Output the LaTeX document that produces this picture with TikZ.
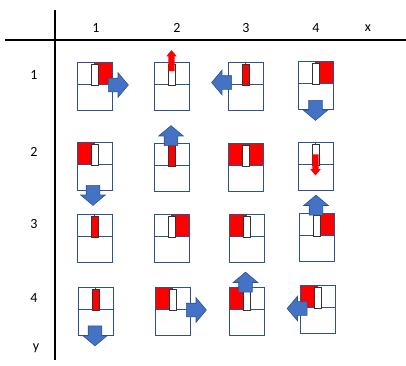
\documentclass[tikz,border=0pt]{standalone}
\usepackage{fontspec}
\setmainfont{Carlito}
\usetikzlibrary{shapes.arrows}
\definecolor{mouseblue}{RGB}{47,82,143}
\definecolor{arrowblue}{RGB}{68,114,196}
\tikzset{
  axis/.style={line width=1.2pt},
  lbl/.style={inner sep=0pt},
  mouseline/.style={draw=mouseblue, line width=0.9pt},
  wheel/.style={rectangle, draw=black!80, line width=0.9pt, minimum width=7pt, minimum height=21pt, inner sep=0pt},
  bluearrow/.style={single arrow, fill=arrowblue, draw=mouseblue, line width=0.6pt, inner xsep=0pt, inner ysep=6.5pt,
    minimum height=20pt, single arrow head extend=5.5pt, single arrow tip angle=100},
  redarrow/.style={single arrow, fill=red, inner xsep=0pt, inner ysep=3pt,
    minimum height=21pt, single arrow head extend=2pt, single arrow tip angle=80},
  pics/mouse/.style n args={3}{code={
    \fill[#1] (0,0) rectangle (17.5,22);
    \fill[#2] (17.5,0) rectangle (35,22);
    \draw[mouseline] (0,0) rectangle (35,48);
    \draw[mouseline] (0,22) -- (35,22) (17.5,0) -- (17.5,22);
    \node[wheel, fill=#3] (-wheel) at (17.5,12.75) {};
  }},
}
\begin{document}
\begin{tikzpicture}[x=1pt,y=-1pt,font=\fontsize{14}{16}\selectfont]
\useasboundingbox (0,0) rectangle (406,365);
% axes
\coordinate (xa) at (5,40);
\coordinate (xb) at (406,40);
\coordinate (ya) at (55,10);
\coordinate (yb) at (55,360);
\draw[axis] (xa) -- (xb);
\draw[axis] (ya) -- (yb);
% labels
\node[lbl] (cx1) at (96,28) {1};
\node[lbl] (cx2) at (177,28) {2};
\node[lbl] (cx3) at (246,28) {3};
\node[lbl] (cx4) at (316,28) {4};
\node[lbl] (cxx) at (368,28) {x};
\node[lbl] (ry1) at (34,75) {1};
\node[lbl] (ry2) at (34,152) {2};
\node[lbl] (ry3) at (34,224) {3};
\node[lbl] (ry4) at (34,298) {4};
\node[lbl] (ryy) at (36,348) {y};
% mice, row 1
\pic (m11) at (77,62) {mouse={white}{red}{white}};
\pic (m21) at (154,62) {mouse={white}{white}{white}};
\pic (m31) at (228,62) {mouse={white}{white}{red}};
\pic (m41) at (298,61) {mouse={white}{red}{white}};
% row 2
\pic (m12) at (77,142) {mouse={red}{white}{white}};
\pic (m22) at (154,143) {mouse={white}{white}{red}};
\pic (m32) at (228,143) {mouse={red}{red}{white}};
\pic (m42) at (298,142) {mouse={white}{white}{white}};
% row 3
\pic (m13) at (77,214) {mouse={white}{white}{red}};
\pic (m23) at (154,214) {mouse={white}{red}{white}};
\pic (m33) at (229,214) {mouse={red}{white}{white}};
\pic (m43) at (299,213) {mouse={white}{red}{white}};
% row 4
\pic (m14) at (78,287) {mouse={white}{white}{red}};
\pic (m24) at (155,287) {mouse={red}{white}{white}};
\pic (m34) at (229,287) {mouse={red}{white}{white}};
\pic (m44) at (300,285) {mouse={red}{white}{white}};
% red wheel arrows
\node[redarrow, rotate=90] (r21) at (171.5,62.5) {};
\node[redarrow, rotate=-90] (r42) at (315.5,163) {};
% blue arrows
\node[bluearrow] (a11) at (115.5,85) {};
\node[bluearrow, rotate=180] (a31) at (224.5,82.5) {};
\node[bluearrow, rotate=-90] (a41) at (315.5,107.5) {};
\node[bluearrow, rotate=-90] (a12) at (93,192.5) {};
\node[bluearrow, rotate=90] (a22) at (171,138.5) {};
\node[bluearrow, rotate=90] (a43) at (316,208) {};
\node[bluearrow, rotate=-90] (a14) at (95,333) {};
\node[bluearrow] (a24) at (193.5,310) {};
\node[bluearrow, rotate=90] (a34) at (245.5,285) {};
\node[bluearrow, rotate=180] (a44) at (300,308.5) {};
\end{tikzpicture}
\end{document}
